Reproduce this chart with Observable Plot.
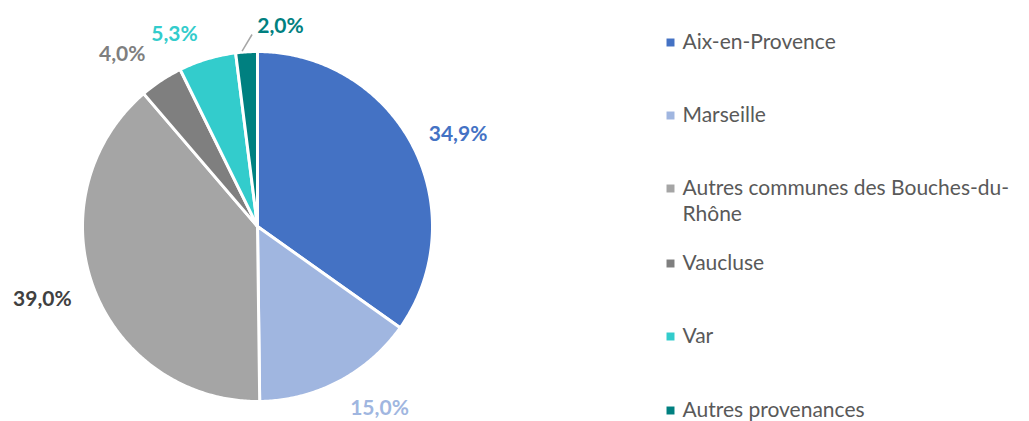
<!DOCTYPE html>
<html>
<head>
<meta charset="utf-8">
<script src="https://cdn.jsdelivr.net/npm/d3@7"></script>
<script src="https://cdn.jsdelivr.net/npm/@observablehq/plot@0.6"></script>
<style>
  html, body { margin: 0; padding: 0; background: #fff; overflow: hidden; }
  svg { display: block; }
</style>
</head>
<body>
<div id="chart"></div>
<script>
// ---- data ----
const categories = ["Aix-en-Provence", "Marseille", "Autres communes des Bouches-du-Rhône", "Vaucluse", "Var", "Autres provenances"];
const shares = [34.9, 15.0, 39.0, 4.0, 5.3, 2.0];
const labels = ["34,9%", "15,0%", "39,0%", "4,0%", "5,3%", "2,0%"];
const legendLabels = ["Aix-en-Provence", "Marseille", "Autres communes des Bouches-du-\nRhône", "Vaucluse", "Var", "Autres provenances"];

// ---- style ----
const colors = ["#4472C4", "#A0B6E0", "#A5A5A5", "#7F7F7F", "#33CCCC", "#008080"];
const labelColors = ["#4472C4", "#A0B6E0", "#404040", "#7F7F7F", "#33CCCC", "#008080"];

// ---- layout ----
const W = 1029, H = 421;
const cx = 257, cy = 226, R = 175;
const labelR = [1.261, 1.25, 1.298, 1.25, 1.199, 1.151];
const labelShiftDeg = [2.66, -6.24, 1.92, -4.8, -6.6, 10.15];

// pie geometry (unit circle)
const pie = d3.pie().sort(null).value(d => d.value)
  .startAngle(0).endAngle(2 * Math.PI);
const rows = categories.map((c, i) => ({name: c, value: shares[i], label: labels[i], i}));
const arcs = pie(rows);

const polys = [];
arcs.forEach(a => {
  polys.push({name: a.data.name, u: 0, v: 0});
  const n = Math.max(4, Math.ceil((a.endAngle - a.startAngle) / 0.01));
  for (let k = 0; k <= n; k++) {
    const t = a.startAngle + (a.endAngle - a.startAngle) * k / n;
    polys.push({name: a.data.name, u: Math.sin(t), v: Math.cos(t)});
  }
  polys.push({name: a.data.name, u: 0, v: 0});
});

const labelPts = arcs.map(a => {
  const i = a.data.i;
  const m = (a.startAngle + a.endAngle) / 2 + labelShiftDeg[i] * Math.PI / 180;
  return {label: a.data.label, i, u: labelR[i] * Math.sin(m), v: labelR[i] * Math.cos(m)};
});

// leader line for the small last slice
const last = arcs[arcs.length - 1];
const lm = (last.startAngle + last.endAngle) / 2 - 0.025;
const lu = 1.006 * Math.sin(lm), lv = 1.006 * Math.cos(lm);
const leader = [{u1: lu, v1: lv, u2: lu + 0.057, v2: lv + 0.095}];

// scales: unit circle -> pixels
const xDomain = [-cx / R, (W - cx) / R];
const yDomain = [-(H - cy) / R, cy / R];
const pxU = px => (px - cx) / R;
const pxV = py => (cy - py) / R;

// legend layout (pixels)
const legendX = 670, legendTextX = 682;
const legendYs = [42, 115, 188, 263, 336, 410];
const legend = categories.map((c, i) => ({name: c, text: legendLabels[i], i}));

const plot = Plot.plot({
  width: W, height: H,
  margin: 0,
  x: {domain: xDomain, range: [0, W], axis: null},
  y: {domain: yDomain, range: [H, 0], axis: null},
  color: {domain: categories, range: colors},
  style: {fontFamily: "Lato, sans-serif", background: "#fff"},
  marks: [
    Plot.line(polys, {x: "u", y: "v", z: "name", fill: "name", stroke: "white", strokeWidth: 3, strokeLinejoin: "round", curve: "linear"}),
    Plot.link(leader, {x1: "u1", y1: "v1", x2: "u2", y2: "v2", stroke: "#A6A6A6", strokeWidth: 1.5}),
    Plot.text(labelPts, {x: "u", y: "v", text: "label", fill: d => labelColors[d.i], fontSize: 21, fontWeight: "bold"}),
    Plot.dot(legend, {x: d => pxU(legendX), y: d => pxV(legendYs[d.i]), symbol: "square", r: 4.5, fill: "name", stroke: null}),
    Plot.text(legend, {x: d => pxU(legendTextX), y: d => pxV(legendYs[d.i]), text: "text", textAnchor: "start", lineAnchor: "top", dy: -12, lineHeight: 1.25, fill: "#595959", fontSize: 21})
  ]
});
document.getElementById("chart").appendChild(plot);
</script>
</body>
</html>
